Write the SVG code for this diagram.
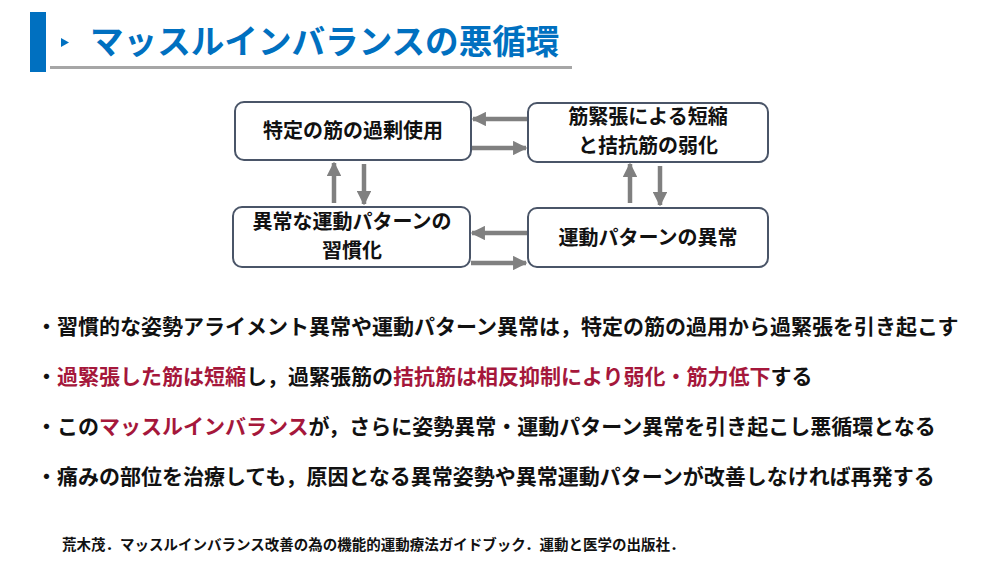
<svg xmlns="http://www.w3.org/2000/svg" width="1000" height="563" viewBox="0 0 1000 563">
<defs>
<style>
text{font-family:"Noto Sans CJK JP","Noto Sans",sans-serif;font-weight:bold;}
.box{fill:#fff;stroke:#4a5568;stroke-width:2;}
.bt{font-size:20px;fill:#111;text-anchor:middle;}
.bl{font-size:21px;fill:#111;}
.r{fill:#a5173b;}
.arr{stroke:#808080;stroke-width:4.5;fill:none;marker-end:url(#ah);}
</style>
<marker id="ah" viewBox="0 0 10 10" refX="9" refY="5" markerWidth="3.2" markerHeight="3.2" orient="auto" markerUnits="strokeWidth">
<path d="M0,0 L10,5 L0,10 Z" fill="#808080"/>
</marker>
</defs>
<rect width="1000" height="563" fill="#fff"/>
<g id="title">
<rect x="30" y="12" width="16" height="60" fill="#0070c0"/>
<path d="M61,38 L69,42.5 L61,47 Z" fill="#0070c0"/>
<text x="90" y="54" font-size="33.6" fill="#0070c0">マッスルインバランスの悪循環</text>
<rect x="50" y="66" width="522" height="3" fill="#a6a6a6"/>
</g>
<g id="node1">
<rect class="box" x="235" y="102" width="236" height="58" rx="9"/>
<text class="bt" x="353" y="138">特定の筋の過剰使用</text>
</g>
<g id="node2">
<rect class="box" x="528" y="103" width="240" height="59" rx="9"/>
<text class="bt"><tspan x="648" y="123.5">筋緊張による短縮</tspan><tspan x="648" y="152.5">と拮抗筋の弱化</tspan></text>
</g>
<g id="node3">
<rect class="box" x="233" y="207" width="237" height="60" rx="9"/>
<text class="bt"><tspan x="352" y="228.5">異常な運動パターンの</tspan><tspan x="352" y="257.5">習慣化</tspan></text>
</g>
<g id="node4">
<rect class="box" x="528" y="208" width="240" height="59" rx="9"/>
<text class="bt" x="648" y="245">運動パターンの異常</text>
</g>
<g id="connectors">
<line class="arr" x1="527" y1="119" x2="473" y2="119"/>
<line class="arr" x1="472" y1="148" x2="526" y2="148"/>
<line class="arr" x1="527" y1="233" x2="472" y2="233"/>
<line class="arr" x1="471" y1="263" x2="526" y2="263"/>
<line class="arr" x1="334" y1="203" x2="334" y2="163"/>
<line class="arr" x1="364" y1="164" x2="364" y2="204"/>
<line class="arr" x1="630" y1="203" x2="630" y2="164"/>
<line class="arr" x1="660" y1="166" x2="660" y2="205"/>
</g>
<g id="bullets">
<text class="bl" x="36" y="334">・習慣的な姿勢アライメント異常や運動パターン異常は，特定の筋の過用から過緊張を引き起こす</text>
<text class="bl" x="36" y="384">・<tspan class="r">過緊張した筋は短縮</tspan>し，過緊張筋の<tspan class="r">拮抗筋は相反抑制により弱化・筋力低下</tspan>する</text>
<text class="bl" x="36" y="434">・この<tspan class="r">マッスルインバランス</tspan>が，さらに姿勢異常・運動パターン異常を引き起こし悪循環となる</text>
<text class="bl" x="36" y="484">・痛みの部位を治療しても，原因となる異常姿勢や異常運動パターンが改善しなければ再発する</text>
</g>
<text x="62" y="550" font-size="14.5" fill="#111">荒木茂．マッスルインバランス改善の為の機能的運動療法ガイドブック．運動と医学の出版社．</text>
</svg>
